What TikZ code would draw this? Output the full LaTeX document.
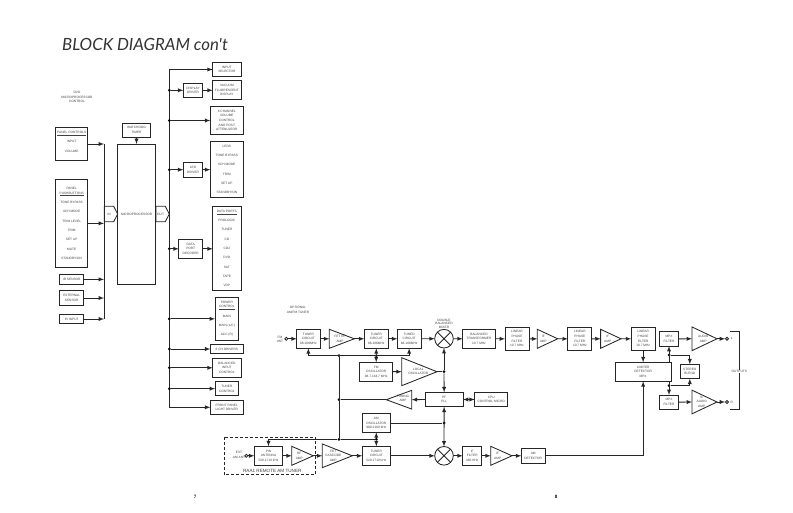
\documentclass[tikz,border=0pt]{standalone}
\usepackage{fontspec}
\setmainfont{Liberation Sans}
\newfontfamily\titlefont{Lato}
\newfontfamily\pagefont{Liberation Serif}
\usetikzlibrary{shapes.geometric,shapes.symbols}
\tikzset{
  line/.style={draw=black!85,line width=0.85pt},
  block/.style={line,rectangle,inner sep=0pt,outer sep=0pt,align=center,text=black!75,font=\fontsize{3.2}{4.67}\selectfont},
  size/.style 2 args={minimum width=#1,minimum height=#2},
  listblock/.style={block,font=\fontsize{3.2}{9.33}\selectfont},
  lbl/.style={inner sep=0pt,align=center,text=black!75,font=\fontsize{3.2}{4.67}\selectfont},
  amp/.style={line,isosceles triangle,isosceles triangle stretches,inner sep=0pt,outer sep=0pt,anchor=apex},
  mixer/.style={line,circle,inner sep=0pt,outer sep=0pt,minimum size=18.6,
    path picture={\draw[line] (path picture bounding box.north west) -- (path picture bounding box.south east)
      (path picture bounding box.north east) -- (path picture bounding box.south west);}},
  dot/.style={circle,fill=black,inner sep=0pt,minimum size=3},
  port/.style={circle,line,fill=white,inner sep=0pt,minimum size=3},
  flag/.style={line,signal,signal to=east,signal pointer angle=125,inner sep=0pt,outer sep=0pt,
    size={13.4}{15.4},anchor=east,text=black!75,font=\fontsize{3.2}{4.67}\selectfont},
  conn/.style={line,>=latex}
}
\begin{document}
\begin{tikzpicture}[x=1pt,y=-1pt]
\useasboundingbox (0,0) rectangle (793,513);

\node[anchor=west,inner sep=0pt,font=\titlefont\itshape\fontsize{16.8}{20}\selectfont,text=black!80] (title) at (62,44.5) {BLOCK DIAGRAM con't};
\node[lbl] (dvdlbl) at (77,97) {DVD\\MICROPROCESSOR\\CONTROL};
\node[font=\pagefont\bfseries\fontsize{5}{6}\selectfont,inner sep=0pt] (pagea) at (195,497) {7};
\node[font=\pagefont\bfseries\fontsize{5}{6}\selectfont,inner sep=0pt] (pageb) at (556,497) {8};

% left page, inputs
\node[listblock,size={32}{32.6}] (panelctl) at (71.7,144) {\underline{PANEL CONTROLS}\\INPUT\\VOLUME\\[-4.67pt]{}};
\node[listblock,size={32}{88.7}] (panelpb) at (71.7,223.35) {PANEL\\[-4.67pt]\underline{PUSHBUTTONS}\\TONE BYPASS\\6CH MODE\\TRIM LEVEL\\TRIM\\SET UP\\MUTE\\STANDBY/ON};
\node[block,size={24}{9.3}] (irsens) at (71.7,279.35) {IR SENSOR};
\node[block,size={24}{14.6}] (extsens) at (71.7,298) {EXTERNAL\\SENSOR};
\node[block,size={24}{9.4}] (irin) at (71.7,319) {IR INPUT};
\node[block,size={28.4}{14.3}] (watchdog) at (136.5,130.2) {WATCHDOG\\TIMER};
\node[block,size={38}{140}] (micro) at (136.7,214) {MICROPROCESSOR};
\node[flag] (inflag) at (117.7,214) {IN};
\node[flag] (outflag) at (169.3,214) {OUT};

\coordinate (lbustop) at (104,144);
\coordinate (lbusbot) at (104,319);
\draw[conn] (lbustop) -- (lbusbot);
\foreach \nm in {panelctl,panelpb,irsens,extsens,irin}
  \draw[conn,->] (\nm.east) -- (\nm.east -| lbustop);
\draw[conn,->] (watchdog.south) -- (micro.north -| watchdog.south);

% left page, outputs
\node[block,size={28.3}{14.4}] (inputsel) at (226.85,69.5) {INPUT\\SELECTOR};
\node[block,size={28.3}{19}] (vfd) at (226.85,90.2) {VACUUM\\FLUORESCENT\\DISPLAY};
\node[block,size={19.4}{14.7}] (dispdrv) at (193,90.3) {DISPLAY\\DRIVER};
\node[block,size={33}{28.4}] (volctl) at (226.8,120.5) {6 CHANNEL\\VOLUME\\CONTROL\\AND POST\\ATTENUATOR};
\node[listblock,size={33}{56.4}] (leds) at (226.8,169.5) {LEDS\\TONE BYPASS\\6CH MODE\\TRIM\\SET UP\\STANDBY/ON};
\node[block,size={19.4}{14.7}] (leddrv) at (193,169.7) {LED\\DRIVER};
\node[listblock,size={28.3}{84.4}] (dataports) at (226.85,248.5) {\underline{DATA PORTS}\\PROLOGIC\\TUNER\\CD\\CD2\\DVD\\SAT\\TAPE\\VDP};
\node[block,size={24}{19}] (decoder) at (190.7,248.8) {DATA\\PORT\\DECODER};
\node[listblock,size={23.7}{42.3}] (power) at (226.85,318.85) {POWER\\[-4.67pt]\underline{CONTROL}\\MAIN\\MAIN (L/C)\\ACC (R)};
\node[block,size={33}{9.4}] (drivers) at (226.8,349) {6 CH DRIVERS};
\node[block,size={28.3}{19}] (balanced) at (226.85,367.8) {BALANCED\\INPUT\\CONTROL};
\node[block,size={23.7}{14}] (tunctl) at (226.85,388.7) {TUNER\\CONTROL};
\node[block,size={33}{14}] (front) at (226.8,407.3) {FRONT PANEL\\LIGHT DRIVER};

\coordinate (rbustop) at (169.3,69.5);
\coordinate (rbusbot) at (169.3,407.3);
\draw[conn] (rbustop) -- (rbusbot);
\draw[conn,->] (rbustop) -- (inputsel.west);
\draw[conn,->] (rbusbot) -- (front.west);
\foreach \nm in {dispdrv,volctl,leddrv,decoder,power,drivers,balanced,tunctl}{
  \node[dot] (dot\nm) at (rbustop |- \nm.west) {};
  \draw[conn,->] (dot\nm) -- (\nm.west);
}
\draw[conn,->] (dispdrv.east) -- (vfd.west |- dispdrv.east);
\draw[conn,->] (leddrv.east) -- (leds.west |- leddrv.east);
\draw[conn,->] (decoder.east) -- (dataports.west |- decoder.east);

% right page, fm path
\node[lbl] (optlbl) at (298,310) {OPTIONAL\\AM/FM TUNER};
\node[lbl] (fmant) at (280,339.5) {FM\\ANT};
\node[port] (fmport) at (286.3,338.8) {};
\node[block,size={23.3}{19}] (tuner1) at (308.35,338.8) {TUNER\\CIRCUIT\\88-108MHz};
\node[amp,minimum height=25,minimum width=19] (fetamp) at (354.3,338.8) {};
\node[lbl] (fetlbl) at (340,338.7) {FET RF\\AMP};
\node[block,size={24}{19}] (tuner2) at (376.3,338.8) {TUNER\\CIRCUIT\\88-108MHz};
\node[block,size={23.7}{19}] (tuner3) at (409.15,338.8) {TUNED\\CIRCUIT\\88-108MHz};
\node[mixer] (mixer) at (444,338.7) {};
\node[lbl,font=\fontsize{3.2}{3.6}\selectfont] (mixlbl) at (444,323.7) {DOUBLE\\BALANCED\\MIXER};
\node[block,size={32.6}{19}] (balxf) at (479,338.8) {BALANCED\\TRANSFORMER\\10.7 MHz};
\node[block,size={24}{23.7}] (lpf1) at (517,338.85) {LINEAR\\PHASE\\FILTER\\10.7 MHz};
\node[amp,minimum height=20.4,minimum width=19] (ifamp1) at (557.7,338.8) {};
\node[lbl] (iflbl1) at (543.3,338.7) {IF\\AMP};
\node[block,size={24}{23.7}] (lpf2) at (579.85,338.85) {LINEAR\\PHASE\\FILTER\\10.7 MHz};
\node[amp,minimum height=20.4,minimum width=19] (ifamp2) at (621,338.8) {};
\node[lbl] (iflbl2) at (607.7,338.7) {IF\\AMP};
\node[block,size={24}{23.7}] (lpf3) at (643.15,338.85) {LINEAR\\PHASE\\FILTER\\10.7 MHz};

\draw[conn,->] (fmport) -- (tuner1.west);
\draw[conn,->] (tuner1.east) -- (fetamp.lower side);
\draw[conn,->] (fetamp.apex) -- (tuner2.west);
\draw[conn,->] (tuner2.east) -- (tuner3.west);
\draw[conn,->] (tuner3.east) -- (mixer.west);
\draw[conn,->] (mixer.east) -- (balxf.west);
\draw[conn,->] (balxf.east) -- (lpf1.west);
\draw[conn,->] (lpf1.east) -- (ifamp1.lower side);
\draw[conn,->] (ifamp1.apex) -- (lpf2.west);
\draw[conn,->] (lpf2.east) -- (ifamp2.lower side);
\draw[conn,->] (ifamp2.apex) -- (lpf3.west);

% outputs
\node[block,size={18.6}{14.3}] (mpxt) at (669,338.85) {MPX\\FILTER};
\node[block,size={18.6}{14.3}] (mpxb) at (669,402.15) {MPX\\FILTER};
\node[block,size={56.3}{19}] (limiter) at (643.15,371.8) {LIMITER\\DETECTOR\\MPX};
\node[block,size={19}{14.4}] (blend) at (689.8,371.5) {STEREO\\BLEND};
\node[amp,minimum height=25,minimum width=23.7] (audl) at (717,338.8) {};
\node[lbl] (audllbl) at (703.3,338.7) {AUDIO\\AMP};
\node[amp,minimum height=25,minimum width=23.7] (audr) at (717,402) {};
\node[lbl] (audrlbl) at (701.7,401.7) {IC\\AUDIO\\AMP};
\node[port] (portl) at (727,338.8) {};
\node[port] (portr) at (727,402) {};
\node[lbl] (ltxt) at (731.7,338.8) {L};
\node[lbl] (rtxt) at (731.7,402) {R};
\coordinate (brtop) at (730,331.7);
\coordinate (brbot) at (730,409);
\draw[conn] (brtop) -- ++(9.3,0) |- (brbot);
\node[lbl,fill=white,inner sep=0.6pt] (outlbl) at (739.3,371.3) {OUTPUTS};
\node[dot] (blendt) at (669,355) {};
\node[dot] (blendb) at (669,385.7) {};

\draw[conn,->] (lpf3.south) -- (limiter.north);
\draw[conn,->] (limiter.north -| mpxt.south) -- (mpxt.south);
\draw[conn,->] (limiter.south -| mpxb.north) -- (mpxb.north);
\draw[conn,->] (blendt) -| (blend.north);
\draw[conn,->] (blendb) -| (blend.south);
\draw[conn,->] (mpxt.east) -- (audl.lower side);
\draw[conn,->] (mpxb.east) -- (audr.lower side);
\draw[conn,->] (audl.apex) -- (portl);
\draw[conn,->] (audr.apex) -- (portr);

% tuning section
\node[block,size={33}{18.7}] (fmosc) at (376.2,371.65) {FM\\OSCILLATOR\\98.7-118.7 MHz};
\node[amp,minimum height=35.3,minimum width=28] (localosc) at (437,371.7) {};
\node[lbl] (loclbl) at (418.3,371.3) {LOCAL\\OSCILLATOR};
\node[block,size={37.7}{14.4}] (pll) at (444.15,399.5) {PF\\PLL};
\node[block,size={33}{14.4}] (cpu) at (491.2,399.5) {CPU\\CONTROL MICRO};
\node[amp,shape border rotate=180,minimum height=25.4,minimum width=18.7] (tunamp) at (386.3,399.7) {};
\node[lbl] (tunlbl) at (403,398.5) {TUNING\\AMP};
\node[block,size={28}{18.6}] (amosc) at (376.3,423) {AM\\OSCILLATOR\\980-2160 kHz};

\coordinate (vtbus) at (339,355.7);
\node[dot] (vtdot) at (339,355.7) {};
\node[dot] (fmdot) at (376.3,355.7) {};
\node[dot] (tundot) at (339,399.7) {};
\node[dot] (amdot) at (339,439.3) {};
\node[dot] (amsplit) at (376.3,439.3) {};
\node[dot] (lodot) at (444,371.7) {};
\node[dot] (amlodot) at (444,423) {};

\draw[conn,<->] (tuner1.south) |- (vtbus) -| (tuner3.south);
\draw[conn,<->] (tuner2.south) -- (fmosc.north);
\draw[conn] (vtdot) -- (amdot);
\draw[conn,->] (fmosc.east) -- (localosc.lower side);
\draw[conn] (localosc.apex) -- (lodot);
\draw[conn,->] (lodot) -- (mixer.south);
\draw[conn,->] (lodot) -- (pll.north);
\draw[conn,<->] (pll.east) -- (cpu.west);
\draw[conn,->] (pll.west) -- (tunamp.lower side);
\draw[conn] (tunamp.apex) -- (tundot);

% am path
\node[lbl] (amant) at (239,455) {EXT\\AM ANT};
\node[port] (amport) at (246.3,455.8) {};
\node[block,size={28.4}{19}] (pin) at (268.5,455.8) {PIN\\ANTENNA\\520-1710 kHz};
\node[amp,minimum height=21.6,minimum width=19] (rfamp) at (313.3,455.8) {};
\node[lbl] (rflbl) at (299.3,455.7) {RF\\AMP};
\node[amp,minimum height=30,minimum width=23.7] (cascode) at (352.3,455.8) {};
\node[lbl] (caslbl) at (333.3,455.7) {FET\\CASCODE\\AMP};
\node[block,size={28}{19}] (amtun) at (376.3,455.8) {TUNER\\CIRCUIT\\520-1710 kHz};
\node[mixer] (ammix) at (444,455.8) {};
\node[block,size={19}{19}] (iff) at (472.2,455.8) {IF\\FILTER\\450 KHz};
\node[amp,minimum height=21.3,minimum width=19] (ifamp3) at (512,455.8) {};
\node[lbl] (iflbl3) at (497.7,455.7) {IF\\AMP};
\node[block,size={23.7}{14.3}] (amdet) at (533.15,455.8) {AM\\DETECTOR};
\coordinate (dashnw) at (224,437);
\coordinate (dashse) at (315.7,474.7);
\draw[line,densely dashed] (dashnw) rectangle (dashse);
\node[inner sep=0pt,text=black!75,font=\fontsize{4.6}{5}\selectfont] (raalbl) at (272.3,470.7) {RAA1 REMOTE AM TUNER};

\draw[conn,->] (amport) -- (pin.west);
\draw[conn,->] (pin.east) -- (rfamp.lower side);
\draw[conn,->] (rfamp.apex) -- (cascode.lower side);
\draw[conn,->] (cascode.apex) -- (amtun.west);
\draw[conn,->] (amtun.east) -- (ammix.west);
\draw[conn,->] (ammix.east) -- (iff.west);
\draw[conn,->] (iff.east) -- (ifamp3.lower side);
\draw[conn,->] (ifamp3.apex) -- (amdet.west);
\draw[conn,->] (amdet.east) -| (limiter.south);
\draw[conn,->] (amsplit) -- (amosc.south);
\draw[conn,->] (amsplit) -- (amtun.north);
\draw[conn,->] (amdot) -| (pin.north);
\draw[conn] (amdot) -- (amsplit);
\draw[conn] (amosc.east) -- (amlodot);
\draw[conn,<->] (pll.south) -- (ammix.north);
\end{tikzpicture}
\end{document}
